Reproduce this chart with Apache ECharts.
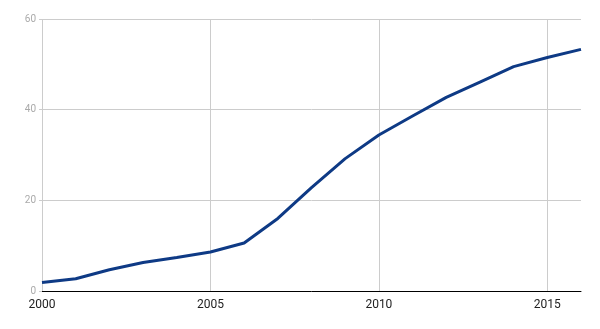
<!DOCTYPE html>
<html>
<head>
<meta charset="utf-8">
<script src="https://cdn.jsdelivr.net/npm/echarts@6/dist/echarts.min.js"></script>
<style>html,body{margin:0;padding:0;background:#fff}#c{width:600px;height:329px}</style>
</head>
<body>
<div id="c"></div>
<script>
var years = ['2000','2001','2002','2003','2004','2005','2006','2007','2008','2009','2010','2011','2012','2013','2014','2015','2016'];
var values = [1.9, 2.7, 4.7, 6.3, 7.4, 8.6, 10.6, 16.0, 22.8, 29.2, 34.4, 38.6, 42.7, 46.1, 49.5, 51.5, 53.3];
var yTicks = [0, 20, 40, 60];

var chart = echarts.init(document.getElementById('c'));
chart.setOption({
  animation: false,
  grid: {left: 42, right: 19, top: 19, bottom: 38},
  xAxis: {
    type: 'category',
    data: years,
    boundaryGap: false,
    axisLine: {show: true, lineStyle: {color: '#000', width: 1}},
    axisTick: {show: false},
    axisLabel: {interval: 4, color: '#222', fontSize: 12, fontFamily: 'Roboto', margin: 8},
    splitLine: {show: true, interval: 4, lineStyle: {color: '#ccc', width: 1}}
  },
  yAxis: {
    type: 'value',
    min: yTicks[0],
    max: yTicks[yTicks.length - 1],
    interval: 20,
    axisLine: {show: false},
    axisTick: {show: true, length: 3, lineStyle: {color: '#ccc'}},
    axisLabel: {color: '#aaa', fontSize: 10, fontFamily: 'Roboto', margin: 6},
    splitLine: {show: true, lineStyle: {color: '#ccc', width: 1}}
  },
  series: [{
    type: 'line',
    data: values,
    symbol: 'none',
    lineStyle: {color: '#0e3a85', width: 3},
    itemStyle: {color: '#0e3a85'}
  }]
});
</script>
</body>
</html>
